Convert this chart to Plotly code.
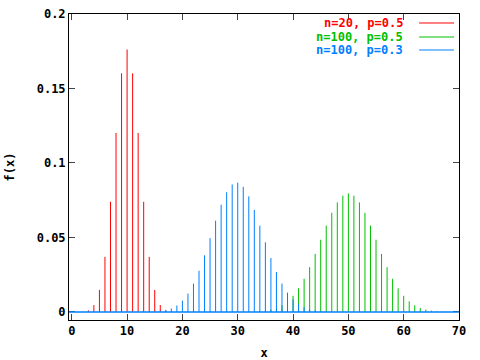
import plotly.graph_objects as go

# n=20, p=0.5
red_x = list(range(0, 21))
red_y = [0.000001, 0.000019, 0.000181, 0.001087, 0.004621, 0.014786, 0.036964,
         0.073929, 0.120134, 0.160179, 0.176197, 0.160179, 0.120134, 0.073929,
         0.036964, 0.014786, 0.004621, 0.001087, 0.000181, 0.000019, 0.000001]

# n=100, p=0.5
green_x = list(range(30, 71))
green_y = [0.000023, 0.000052, 0.000113, 0.000232, 0.000458, 0.000864, 0.001560,
           0.002698, 0.004472, 0.007111, 0.010844, 0.015869, 0.022292, 0.030069,
           0.038953, 0.048474, 0.057958, 0.066590, 0.073527, 0.078028, 0.079589,
           0.078028, 0.073527, 0.066590, 0.057958, 0.048474, 0.038953, 0.030069,
           0.022292, 0.015869, 0.010844, 0.007111, 0.004472, 0.002698, 0.001560,
           0.000864, 0.000458, 0.000232, 0.000113, 0.000052, 0.000023]

# n=100, p=0.3
blue_x = list(range(12, 51))
blue_y = [0.000013, 0.000038, 0.000101, 0.000248, 0.000564, 0.001194, 0.002360,
          0.004364, 0.007575, 0.012368, 0.019034, 0.027665, 0.038039, 0.049559,
          0.061268, 0.071966, 0.080411, 0.085560, 0.086782, 0.083982, 0.077608,
          0.068537, 0.057882, 0.046778, 0.036197, 0.026833, 0.019066, 0.012990,
          0.008490, 0.005325, 0.003206, 0.001853, 0.001029, 0.000549, 0.000281,
          0.000138, 0.000066, 0.000030, 0.000013]

series = [
    ("n=20, p=0.5", red_x, red_y, "#ff0000"),
    ("n=100, p=0.5", green_x, green_y, "#00c000"),
    ("n=100, p=0.3", blue_x, blue_y, "#0080ff"),
]

x_ticks = [0, 10, 20, 30, 40, 50, 60, 70]
y_ticks = [0, 0.05, 0.1, 0.15, 0.2]
y_tick_text = ["0", "0.05", "0.1", "0.15", "0.2"]

FONT = dict(family="DejaVu Sans Mono", size=12, color="black", weight="bold")

fig = go.Figure()
for name, xs, ys, col in series:
    px, py = [], []
    for xv, yv in zip(xs, ys):
        px += [xv, xv, None]
        py += [0, yv, None]
    fig.add_trace(go.Scatter(x=px, y=py, mode="lines", name=name,
                             line=dict(color=col, width=1), showlegend=False,
                             hoverinfo="skip", cliponaxis=False))

# zero line of last series
fig.add_shape(type="line", xref="paper", yref="y", x0=0, x1=1, y0=0, y1=0,
              line=dict(color="#0080ff", width=1.5))

# legend (text right-aligned, sample line to the right)
row_y = [0.9706, 0.9248, 0.8824]
for (name, xs, ys, col), ry in zip(series, row_y):
    fig.add_annotation(xref="paper", yref="paper", x=0.862, y=ry, text=name,
                       showarrow=False, xanchor="right", yanchor="middle",
                       font=dict(family="DejaVu Sans Mono", size=12, color=col,
                                 weight="bold"))
    fig.add_shape(type="line", xref="paper", yref="paper", x0=0.8977, x1=0.9872,
                  y0=ry, y1=ry, line=dict(color=col, width=1))

fig.update_layout(
    width=480, height=360,
    margin=dict(l=68.5, r=20.5, t=13.7, b=40, autoexpand=False),
    paper_bgcolor="white", plot_bgcolor="white",
    font=FONT,
    showlegend=False,
)
fig.update_xaxes(range=[-0.5, 70], tickvals=x_ticks, ticks="inside", ticklen=6,
                 showline=True, linecolor="black", linewidth=1, mirror="ticks",
                 showgrid=False, zeroline=False, tickfont=FONT, automargin=False,
                 title=dict(text="x", font=FONT, standoff=11))
fig.update_yaxes(range=[-0.0054, 0.2], tickvals=y_ticks, ticktext=y_tick_text,
                 ticks="inside", ticklen=6,
                 showline=True, linecolor="black", linewidth=1, mirror="ticks",
                 showgrid=False, zeroline=False, tickfont=FONT, automargin=False,
                 title=dict(text="f(x)", font=FONT, standoff=19))

fig.write_html("out.html", config={"displayModeBar": False},
               post_script="document.body.style.margin='0';document.body.style.overflow='hidden';")
